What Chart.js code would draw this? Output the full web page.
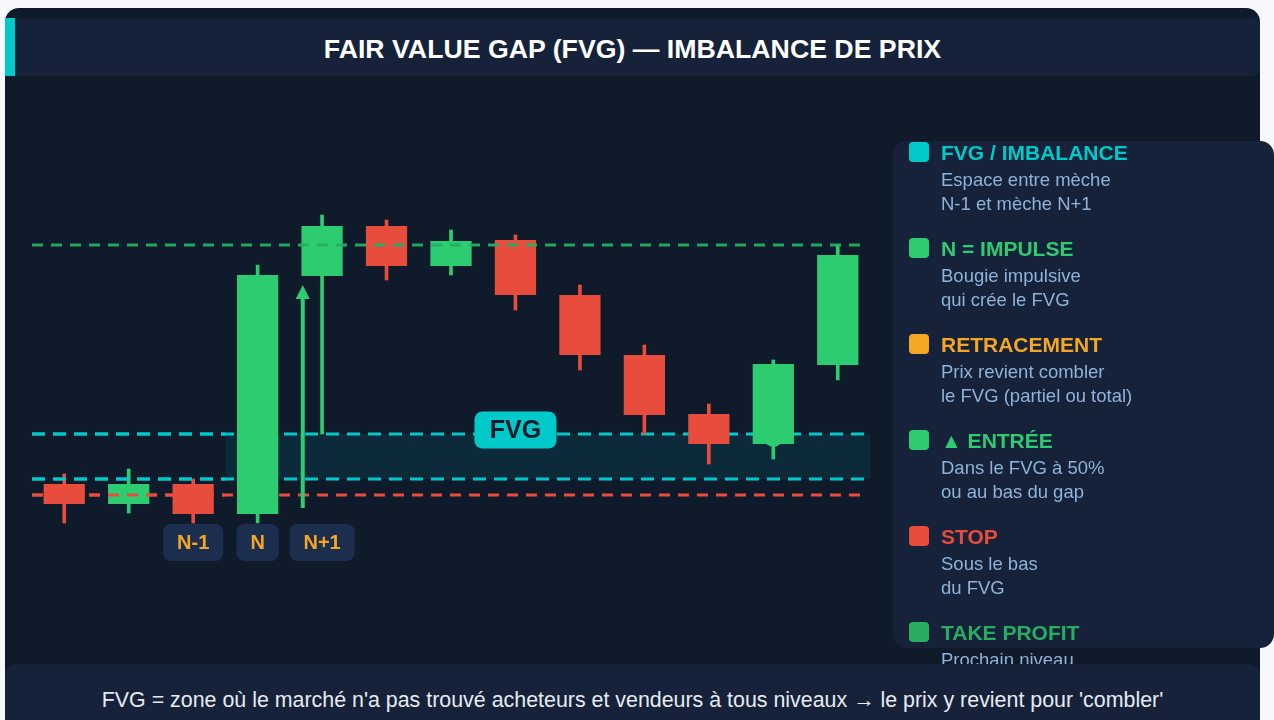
<!DOCTYPE html>
<html lang="fr">
<head>
<meta charset="utf-8">
<title>Fair Value Gap (FVG) — Imbalance de prix</title>
<script src="https://cdn.jsdelivr.net/npm/chart.js@4.4.1/dist/chart.umd.min.js"></script>
<style>
  html, body { margin: 0; padding: 0; }
  body {
    width: 1274px; height: 720px; overflow: hidden; position: relative;
    background: #f6f8fb;
    font-family: "Liberation Sans", Arial, Helvetica, sans-serif;
  }
  .card {
    position: absolute; left: 5px; top: 8px; width: 1255px; height: 740px;
    background: #0f1a2b; border-radius: 14px;
  }
  .title {
    position: absolute; left: 5px; top: 18px; width: 1255px; height: 58px;
    box-sizing: border-box; border-left: 10px solid #00c9c9; padding: 4px 10px 0 0;
    background: #15223a; border-radius: 0 8px 8px 0;
    color: #fff; font-weight: bold; font-size: 26.7px; line-height: 54px; text-align: center;
  }
  .chart-wrap { position: absolute; left: 0; top: 0; width: 1274px; height: 720px; }
  .legend {
    position: absolute; left: 893px; top: 141px; width: 381px; height: 507px;
    background: #15223a; border-radius: 14px;
  }
  .item { position: absolute; left: 0; width: 381px; }
  .item .mark { position: absolute; left: 16px; top: 1px; width: 20px; height: 20px; border-radius: 4px; }
  .item .name { position: absolute; left: 48px; top: 0; line-height: 24px; font-size: 21px; font-weight: bold; white-space: nowrap; }
  .item .desc { position: absolute; left: 48px; top: 27px; line-height: 24px; font-size: 18.5px; color: #8fb2d8; white-space: nowrap; }
  .footer {
    position: absolute; left: 5px; top: 664px; width: 1255px; height: 70px;
    background: #15223a; border-radius: 12px 12px 0 0;
    color: #e6ebf2; font-size: 21.4px; line-height: 24px; text-align: center;
    box-sizing: border-box; padding-top: 24px;
  }
</style>
</head>
<body>
<div class="card"></div>
<div class="title">FAIR VALUE GAP (FVG) — IMBALANCE DE PRIX</div>
<div class="chart-wrap"><canvas id="chart-fvg"></canvas></div>

<div class="legend">
  <div class="item" style="top:0px">
    <div class="mark" style="background:#00c9c9"></div>
    <div class="name" style="color:#00c9c9">FVG / IMBALANCE</div>
    <div class="desc">Espace entre mèche<br>N-1 et mèche N+1</div>
  </div>
  <div class="item" style="top:96px">
    <div class="mark" style="background:#2ecc71"></div>
    <div class="name" style="color:#2ecc71">N = IMPULSE</div>
    <div class="desc">Bougie impulsive<br>qui crée le FVG</div>
  </div>
  <div class="item" style="top:192px">
    <div class="mark" style="background:#f5a623"></div>
    <div class="name" style="color:#f5a623">RETRACEMENT</div>
    <div class="desc">Prix revient combler<br>le FVG (partiel ou total)</div>
  </div>
  <div class="item" style="top:288px">
    <div class="mark" style="background:#2ecc71"></div>
    <div class="name" style="color:#2ecc71">▲ ENTRÉE</div>
    <div class="desc">Dans le FVG à 50%<br>ou au bas du gap</div>
  </div>
  <div class="item" style="top:384px">
    <div class="mark" style="background:#e74c3c"></div>
    <div class="name" style="color:#e74c3c">STOP</div>
    <div class="desc">Sous le bas<br>du FVG</div>
  </div>
  <div class="item" style="top:480px">
    <div class="mark" style="background:#27ae60"></div>
    <div class="name" style="color:#27ae60">TAKE PROFIT</div>
    <div class="desc">Prochain niveau</div>
  </div>
</div>

<div class="footer">FVG = zone où le marché n'a pas trouvé acheteurs et vendeurs à tous niveaux → le prix y revient pour 'combler'</div>

<script>
// --- Data ---
const candleLabels = ['1', '2', '3', '4', '5', '6', '7', '8', '9', '10', '11', '12', '13'];
const opens  = [102.2, 98.2, 102.2, 96.2, 143.8, 153.8, 145.8, 151.0, 140.0, 128.0, 116.2, 110.2, 126.0];
const closes = [ 98.2, 102.2, 96.2, 144.0, 153.8, 145.8, 150.8, 140.0, 128.0, 116.0, 110.2, 126.2, 148.0];
const highs  = [104.2, 105.2, 103.2, 146.0, 156.0, 155.0, 153.0, 152.0, 142.0, 130.0, 118.2, 127.0, 150.0];
const lows   = [ 94.4, 96.4, 94.4, 94.4, 112.2, 143.0, 144.0, 137.0, 125.0, 112.2, 106.2, 107.2, 123.0];

// Levels
const fvgTop = 112.2;      // low of N+1
const fvgBottom = 103.2;   // high of N-1
const stopLevel = 100.0;
const targetLevel = 150.0;

// Annotations
const candleTags = ['', '', 'N-1', 'N', 'N+1', '', '', '', '', '', '', '', ''];
const entryPoint = [null, null, null, null, null, null, null, null, null, null, null, 111.4, null];
const impulseArrow = [97.4, 142.0]; // from / to price

const GREEN = '#2ecc71';
const RED = '#e74c3c';
const CYAN = '#00c9c9';
const ORANGE = '#f5a623';

const candleColors = opens.map((o, i) => closes[i] >= o ? GREEN : RED);

// --- Overlay plugin: FVG zone, levels, arrow, tags ---
function roundRect(ctx, x, y, w, h, r) {
  ctx.beginPath();
  ctx.moveTo(x + r, y);
  ctx.arcTo(x + w, y, x + w, y + h, r);
  ctx.arcTo(x + w, y + h, x, y + h, r);
  ctx.arcTo(x, y + h, x, y, r);
  ctx.arcTo(x, y, x + w, y, r);
  ctx.closePath();
}

function dashedLine(ctx, x1, x2, y, color, width, dash, clipRight) {
  ctx.save();
  if (clipRight !== undefined) {
    ctx.beginPath();
    ctx.rect(0, 0, clipRight, ctx.canvas.height);
    ctx.clip();
  }
  ctx.strokeStyle = color;
  ctx.lineWidth = width;
  ctx.setLineDash(dash);
  ctx.beginPath();
  ctx.moveTo(x1, y);
  ctx.lineTo(x2, y);
  ctx.stroke();
  ctx.restore();
}

function zoneStart(x) {
  const step = x.getPixelForValue(1) - x.getPixelForValue(0);
  return x.getPixelForValue(3) - step / 2;
}

function lowerLevels(ctx, chartArea, y, clipRight) {
  const cyanDash = [13, 8];
  const redDash = [11, 8];
  dashedLine(ctx, chartArea.left, chartArea.right, y.getPixelForValue(fvgTop), CYAN, 3, cyanDash, clipRight);
  dashedLine(ctx, chartArea.left, chartArea.right, y.getPixelForValue(fvgBottom), CYAN, 3, cyanDash, clipRight);
  dashedLine(ctx, chartArea.left, chartArea.right - 6, y.getPixelForValue(stopLevel), RED, 3, redDash, clipRight);
}

const fvgOverlay = {
  id: 'fvgOverlay',
  beforeDatasetsDraw(chart) {
    const { ctx, chartArea, scales: { x, y } } = chart;
    const step = x.getPixelForValue(1) - x.getPixelForValue(0);

    // zone
    const zx = zoneStart(x);
    const top = y.getPixelForValue(fvgTop);
    const bot = y.getPixelForValue(fvgBottom);
    ctx.save();
    ctx.fillStyle = 'rgba(0, 190, 210, 0.10)';
    ctx.fillRect(zx, top, chartArea.right - zx, bot - top);
    ctx.restore();

    lowerLevels(ctx, chartArea, y);

    // impulse arrow
    const ax = x.getPixelForValue(4) - step * 0.3;
    const ay1 = y.getPixelForValue(impulseArrow[0]);
    const ay2 = y.getPixelForValue(impulseArrow[1]);
    ctx.save();
    ctx.strokeStyle = GREEN;
    ctx.fillStyle = GREEN;
    ctx.lineWidth = 4;
    ctx.beginPath();
    ctx.moveTo(ax, ay1);
    ctx.lineTo(ax, ay2 + 12);
    ctx.stroke();
    ctx.beginPath();
    ctx.moveTo(ax, ay2);
    ctx.lineTo(ax - 7, ay2 + 14);
    ctx.lineTo(ax + 7, ay2 + 14);
    ctx.closePath();
    ctx.fill();
    ctx.restore();
  },
  afterDatasetsDraw(chart) {
    const { ctx, chartArea, scales: { x, y } } = chart;

    // levels pass over the candles before the gap, under the impulse and after
    lowerLevels(ctx, chartArea, y, zoneStart(x));
    dashedLine(ctx, chartArea.left, chartArea.right - 6, y.getPixelForValue(targetLevel), 'rgba(39, 174, 96, 0.95)', 3, [11, 8]);

    // N-1 / N / N+1 tags
    const tagTop = y.getPixelForValue(Math.min(...lows)) + 1;
    ctx.save();
    ctx.font = 'bold 20px "Liberation Sans", Arial, sans-serif';
    ctx.textAlign = 'center';
    ctx.textBaseline = 'middle';
    candleTags.forEach((t, i) => {
      if (!t) return;
      const cx = x.getPixelForValue(i);
      const w = ctx.measureText(t).width + 28;
      ctx.fillStyle = '#1c2e4d';
      roundRect(ctx, cx - w / 2, tagTop, w, 37, 8);
      ctx.fill();
      ctx.fillStyle = ORANGE;
      ctx.fillText(t, cx, tagTop + 19.5);
    });

    // FVG badge
    const bx = x.getPixelForValue(7);
    const by = y.getPixelForValue(fvgTop) - 4;
    ctx.fillStyle = CYAN;
    roundRect(ctx, bx - 41, by - 18.5, 82, 37, 8);
    ctx.fill();
    ctx.font = 'bold 25px "Liberation Sans", Arial, sans-serif';
    ctx.fillStyle = '#0f1a2b';
    ctx.fillText('FVG', bx, by + 1);
    ctx.restore();
  }
};

// --- Chart ---
function renderChart() {
  const ctx = document.getElementById('chart-fvg');

  new Chart(ctx, {
    type: 'bar',
    data: {
      labels: candleLabels,
      datasets: [
        {
          label: 'Entrée',
          type: 'line',
          data: entryPoint,
          showLine: false,
          pointRadius: 9,
          pointBackgroundColor: GREEN,
          pointBorderWidth: 0,
          order: 3,
        },
        {
          label: 'Mèches',
          data: lows.map((l, i) => [l, highs[i]]),
          backgroundColor: candleColors,
          barThickness: 3,
          grouped: false,
          borderWidth: 0,
          order: 2,
        },
        {
          label: 'Corps',
          data: opens.map((o, i) => [Math.min(o, closes[i]), Math.max(o, closes[i])]),
          backgroundColor: candleColors,
          categoryPercentage: 1,
          barPercentage: 0.64,
          grouped: false,
          borderWidth: 0,
          order: 1,
        },
      ],
    },
    options: {
      responsive: true,
      maintainAspectRatio: false,
      animation: false,
      layout: { padding: { left: 32, right: 404, top: 90, bottom: 120 } },
      plugins: {
        legend: { display: false },
        tooltip: { enabled: false },
      },
      scales: {
        x: { display: false, offset: true },
        y: { display: false, min: 79, max: 181 },
      },
    },
    plugins: [fvgOverlay],
  });
}

renderChart();
</script>
</body>
</html>
